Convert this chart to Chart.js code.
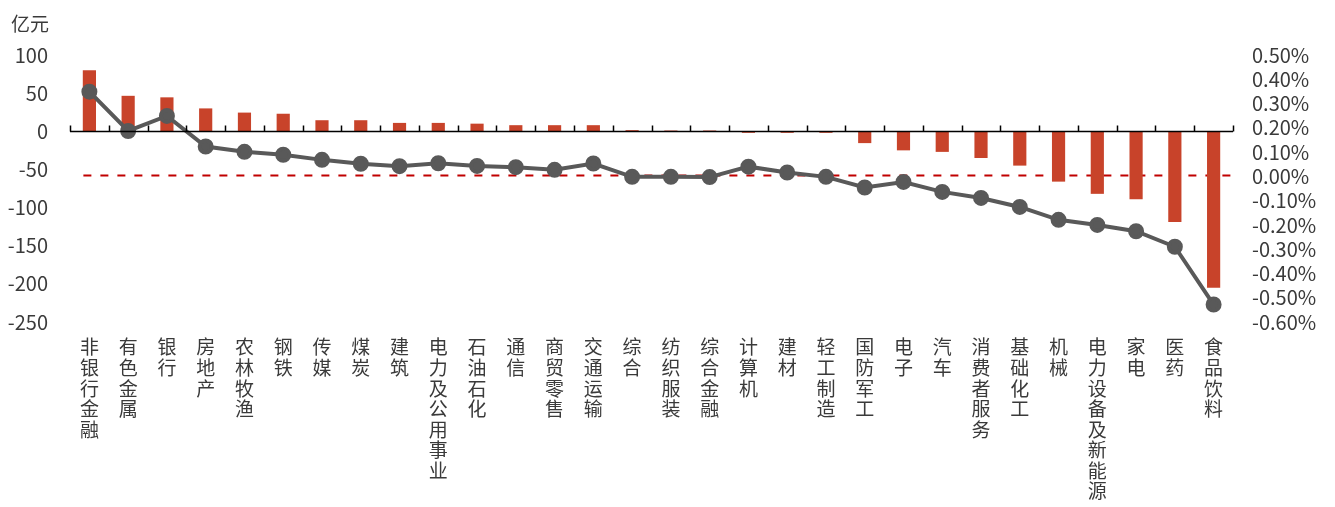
<!DOCTYPE html>
<html>
<head>
<meta charset="utf-8">
<script src="https://cdn.jsdelivr.net/npm/chart.js@4/dist/chart.umd.min.js"></script>
<style>
  html, body { margin: 0; padding: 0; background: #fff; }
  #wrap { position: relative; width: 1335px; height: 507px; }
</style>
</head>
<body>
<div id="wrap"><canvas id="chart"></canvas></div>
<script>
const categories = ["非银行金融", "有色金属", "银行", "房地产", "农林牧渔", "钢铁", "传媒", "煤炭", "建筑", "电力及公用事业",
  "石油石化", "通信", "商贸零售", "交通运输", "综合", "纺织服装", "综合金融", "计算机", "建材", "轻工制造",
  "国防军工", "电子", "汽车", "消费者服务", "基础化工", "机械", "电力设备及新能源", "家电", "医药", "食品饮料"]

// 亿元 (left axis, bars)
const flowValues = [80, 46.5, 44.5, 30, 24.5, 23, 14.5, 14.5, 11, 11,
  10, 8, 8, 8, 1.5, 1, 1, -2, -2, -2,
  -15.5, -25, -27, -35, -45, -66, -82, -89, -119, -205]

// % (right axis, line)
const ratioValues = [0.349, 0.187, 0.249, 0.123, 0.101, 0.089, 0.068, 0.052, 0.042, 0.054,
  0.043, 0.038, 0.027, 0.053, -0.002, -0.002, -0.003, 0.040, 0.016, -0.002,
  -0.046, -0.023, -0.064, -0.089, -0.126, -0.179, -0.200, -0.226, -0.290, -0.528]

const leftTicks = [100, 50, 0, -50, -100, -150, -200, -250]
const rightTicks = [0.5, 0.4, 0.3, 0.2, 0.1, 0, -0.1, -0.2, -0.3, -0.4, -0.5, -0.6]
const unitLabel = "亿元"

const textColor = "#3a3a3a"
const fontFamily = "'Noto Sans CJK SC', 'Noto Sans', sans-serif"

// draws the zero axis with tick marks, the dashed 0% line and the unit label
const extrasPlugin = {
  id: "extras",
  beforeDatasetsDraw(chart) {
    const ctx = chart.ctx
    const area = chart.chartArea
    const x = chart.scales.x
    const y1 = chart.scales.y1
    ctx.save()

    // dashed red 0% line
    const yr = Math.round(y1.getPixelForValue(0)) - 0.5
    ctx.strokeStyle = "#C00000"
    ctx.lineWidth = 2
    ctx.setLineDash([8, 9])
    ctx.beginPath()
    ctx.moveTo(x.getPixelForValue(0) - 6, yr)
    ctx.lineTo(area.right, yr)
    ctx.stroke()
    ctx.setLineDash([])
    ctx.restore()
  },
  afterDatasetsDraw(chart) {
    const ctx = chart.ctx
    const area = chart.chartArea
    const x = chart.scales.x
    const y = chart.scales.y
    ctx.save()
    const y0 = Math.round(y.getPixelForValue(0)) + 0.5
    ctx.strokeStyle = "#000"
    ctx.lineWidth = 1.5
    ctx.beginPath()
    ctx.moveTo(area.left, y0)
    ctx.lineTo(area.right, y0)
    // tick marks at the category boundaries
    const n = categories.length
    for (let i = 0; i <= n; i++) {
      let px
      if (i === 0) px = area.left
      else if (i === n) px = area.right
      else px = (x.getPixelForValue(i - 1) + x.getPixelForValue(i)) / 2
      px = Math.round(px) + 0.5
      ctx.moveTo(px, y0)
      ctx.lineTo(px, y0 - 6)
    }
    ctx.stroke()
    ctx.restore()
  },
  afterDraw(chart) {
    const ctx = chart.ctx
    ctx.save()
    ctx.fillStyle = textColor
    ctx.font = "19px " + fontFamily
    ctx.textAlign = "left"
    ctx.textBaseline = "middle"
    ctx.fillText(unitLabel, 11, 24)
    ctx.restore()
  }
}

new Chart(document.getElementById("chart"), {
  type: "bar",
  data: {
    labels: categories.map((c) => c.split("")),
    datasets: [
      {
        type: "line",
        label: "占比",
        data: ratioValues,
        yAxisID: "y1",
        borderColor: "#595959",
        backgroundColor: "#595959",
        borderWidth: 4,
        pointRadius: 6,
        pointHoverRadius: 6,
        tension: 0,
        order: 0,
      },
      {
        type: "bar",
        label: "净流入",
        data: flowValues,
        yAxisID: "y",
        backgroundColor: "#C8432A",
        barPercentage: 0.34,
        categoryPercentage: 1,
        order: 1,
      },
    ],
  },
  options: {
    responsive: true,
    maintainAspectRatio: false,
    animation: false,
    layout: { padding: { top: 55, left: 0, right: 0, bottom: 0 } },
    plugins: {
      legend: { display: false },
      tooltip: { enabled: false },
    },
    scales: {
      x: {
        position: "bottom",
        offset: true,
        grid: { display: false, drawTicks: false },
        border: { display: false },
        ticks: {
          autoSkip: false,
          maxRotation: 0,
          minRotation: 0,
          padding: 15,
          color: textColor,
          font: { family: fontFamily, size: 19, lineHeight: 1.08 },
        },
        afterFit(scale) { scale.height = 185 },
      },
      y: {
        position: "left",
        min: -250,
        max: 100,
        afterBuildTicks(scale) { scale.ticks = leftTicks.map((v) => ({ value: v })) },
        grid: { display: false, drawTicks: false },
        border: { display: false },
        ticks: {
          autoSkip: false,
          padding: 22,
          color: textColor,
          font: { family: fontFamily, size: 20, lineHeight: 1 },
        },
        afterFit(scale) { scale.width = 70 },
      },
      y1: {
        position: "right",
        min: -0.6,
        max: 0.5,
        afterBuildTicks(scale) { scale.ticks = rightTicks.map((v) => ({ value: v })) },
        grid: { display: false, drawTicks: false },
        border: { display: false },
        ticks: {
          autoSkip: false,
          padding: 19,
          color: textColor,
          font: { family: fontFamily, size: 20, lineHeight: 1 },
          callback: (v) => v.toFixed(2) + "%",
        },
        afterFit(scale) { scale.width = 102 },
      },
    },
  },
  plugins: [extrasPlugin],
})
</script>
</body>
</html>
